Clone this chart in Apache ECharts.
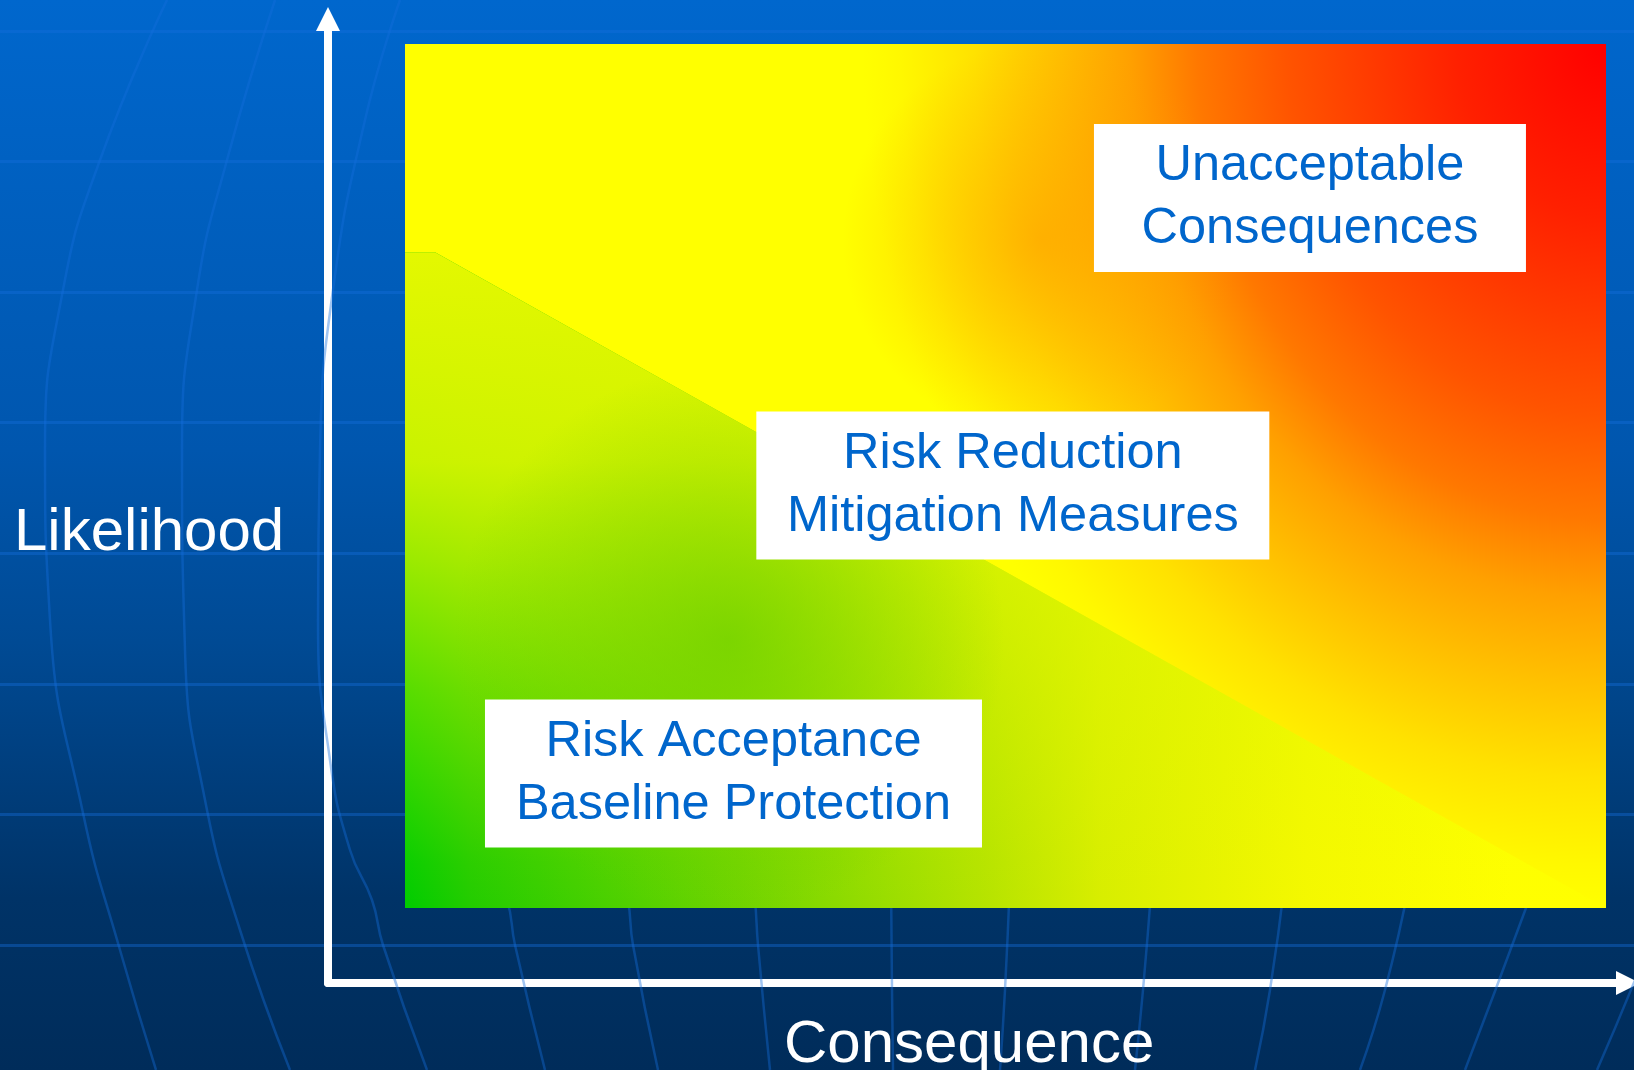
<!DOCTYPE html>
<html>
<head>
<meta charset="utf-8">
<title>Risk zones</title>
<script src="https://cdn.jsdelivr.net/npm/echarts@6/dist/echarts.min.js"></script>
<style>
html, body { margin: 0; padding: 0; }
#chart { width: 1634px; height: 1070px; }
</style>
</head>
<body>
<div id="chart"></div>
<script>
// field, in percent of consequence (x) and likelihood (y)
const fieldX = [0, 100];
const fieldY = [0, 100];
// upper edge of the acceptance zone
const acceptEdge = [[0, 75.9], [2.5, 75.9], [100, 0]];

const zoneNames = ['Unacceptable\nConsequences', 'Risk Reduction\nMitigation Measures', 'Risk Acceptance\nBaseline Protection'];
const zoneX = [75.35, 50.61, 27.35];
const zoneY = [82.18, 48.9, 15.57];

const axisNames = ['Consequence', 'Likelihood'];

// globe decoration behind the chart (page pixels)
const latitudeCount = 7;
const meridians = [
    [[167, 0], [100, 160], [63, 290], [45, 450], [50, 620], [83, 813], [120, 950], [156, 1070]],
    [[275, 0], [227, 160], [197, 290], [182, 450], [185, 650], [205, 800], [240, 930], [290, 1070]],
    [[400, 0], [365, 120], [333, 290], [320, 450], [318, 620], [330, 760], [350, 850], [372, 900], [383, 945], [427, 1070]],
    [[495, 880], [507, 900], [515, 945], [545, 1070]],
    [[622, 880], [628, 900], [633, 945], [658, 1070]],
    [[752, 880], [755, 900], [758, 945], [770, 1070]],
    [[891, 880], [892, 990], [893, 1070]],
    [[1010, 880], [1005, 990], [1000, 1070]],
    [[1152, 880], [1143, 990], [1135, 1070]],
    [[1285, 880], [1270, 990], [1255, 1070]],
    [[1410, 880], [1385, 990], [1360, 1070]],
    [[1535, 880], [1526, 908], [1465, 1070]],
    [[1650, 940], [1633, 985], [1597, 1070]]
];

const chart = echarts.init(document.getElementById('chart'));
const decoBlue = 'rgba(20,110,220,0.4)';
const labelWidths = [432, 513, 497];
const hotSquash = 0.86;

const hotField = new echarts.graphic.RadialGradient(1, 0, 1, [
    { offset: 0, color: '#ff0000' },
    { offset: 0.2, color: '#ff2000' },
    { offset: 0.43, color: '#ff5400' },
    { offset: 0.55, color: '#ff7800' },
    { offset: 0.64, color: '#ffa000' },
    { offset: 0.74, color: '#ffc000' },
    { offset: 0.85, color: '#ffe200' },
    { offset: 0.95, color: '#fff800' },
    { offset: 1, color: '#ffff00' }
]);

const orangeSpot = new echarts.graphic.RadialGradient(0.53, 0.227, 0.23, [
    { offset: 0, color: 'rgba(255,150,0,0.55)' },
    { offset: 1, color: 'rgba(255,150,0,0)' }
]);

const greenAcross = new echarts.graphic.LinearGradient(0, 0, 1, 0, [
    { offset: 0, color: '#00cc00' },
    { offset: 0.054, color: '#22cc00' },
    { offset: 0.28, color: '#70d400' },
    { offset: 0.49, color: '#b8e400' },
    { offset: 0.58, color: '#d8ee00' },
    { offset: 0.75, color: '#f4f800' },
    { offset: 0.92, color: '#ffff00' },
    { offset: 1, color: '#ffff00' }
]);

const yellowDown = new echarts.graphic.LinearGradient(0, 0, 0, 1, [
    { offset: 0, color: 'rgba(228,248,0,1)' },
    { offset: 0.32, color: 'rgba(228,248,0,0.88)' },
    { offset: 0.47, color: 'rgba(228,248,0,0.68)' },
    { offset: 0.67, color: 'rgba(228,248,0,0.38)' },
    { offset: 0.93, color: 'rgba(228,248,0,0.05)' },
    { offset: 1, color: 'rgba(228,248,0,0)' }
]);

const greenSpot = new echarts.graphic.RadialGradient(0.27, 0.59, 0.42, [
    { offset: 0, color: 'rgba(100,205,0,0.65)' },
    { offset: 1, color: 'rgba(100,205,0,0)' }
]);

const series = [];

meridians.forEach(function (m) {
    series.push({
        type: 'line', xAxisIndex: 3, yAxisIndex: 3, data: m, smooth: true,
        symbol: 'none', silent: true, z: 1,
        lineStyle: { color: decoBlue, width: 2.5 }
    });
});

series.push({
    type: 'custom', xAxisIndex: 0, yAxisIndex: 0, z: 3, silent: true,
    data: [[fieldX[0], fieldY[0], fieldX[1], fieldY[1]]],
    renderItem: function (params, api) {
        const p0 = api.coord([api.value(0), api.value(3)]);
        const p1 = api.coord([api.value(2), api.value(1)]);
        const w = p1[0] - p0[0];
        const h = p1[1] - p0[1];
        return {
            type: 'group',
            children: [
                {
                    type: 'group', x: p0[0], y: p0[1], scaleX: hotSquash,
                    children: [{
                        type: 'rect',
                        shape: { x: 0, y: 0, width: w / hotSquash, height: h },
                        style: { fill: hotField }
                    }]
                },
                {
                    type: 'rect',
                    shape: { x: p0[0], y: p0[1], width: w, height: h },
                    style: { fill: orangeSpot }
                }
            ]
        };
    }
});

[greenAcross, yellowDown, greenSpot].forEach(function (fill, i) {
    series.push({
        type: 'line', xAxisIndex: 0, yAxisIndex: 0, data: acceptEdge,
        symbol: 'none', silent: true, z: 4 + i,
        lineStyle: { width: 0 },
        areaStyle: { color: fill, opacity: 1, origin: 'start' }
    });
});

series.push({
    type: 'scatter', xAxisIndex: 0, yAxisIndex: 0, z: 8, silent: true,
    symbolSize: 1,
    itemStyle: { color: 'transparent', opacity: 1 },
    data: zoneNames.map(function (n, i) {
        return {
            value: [zoneX[i], zoneY[i], n],
            label: { width: labelWidths[i] }
        };
    }),
    label: {
        show: true,
        position: 'inside',
        formatter: function (p) { return p.value[2]; },
        color: '#0066cc',
        opacity: 1,
        fontFamily: 'Liberation Sans',
        fontSize: 50.5,
        lineHeight: 63,
        backgroundColor: '#ffffff',
        align: 'center',
        verticalAlign: 'middle',
        padding: [22, 0, 0, 0]
    }
});

const hiddenAxis = function (grid, min, max, inverse) {
    return { gridIndex: grid, type: 'value', min: min, max: max, inverse: !!inverse, show: false };
};

const arrowLine = {
    show: true,
    onZero: false,
    symbol: ['none', 'triangle'],
    symbolSize: [24, 24],
    lineStyle: { color: '#ffffff', width: 8 }
};

const axisTitleStyle = { color: '#ffffff', fontSize: 60, lineHeight: 60, fontWeight: 'normal', fontFamily: 'Liberation Sans' };

const option = {
    animation: false,
    backgroundColor: new echarts.graphic.LinearGradient(0, 0, 0, 1, [
        { offset: 0, color: '#0067cd' },
        { offset: 0.42, color: '#0056ae' },
        { offset: 0.6, color: '#004a94' },
        { offset: 0.84, color: '#003367' },
        { offset: 1, color: '#002c5a' }
    ]),
    title: [
        { text: axisNames[1], left: 14, top: 503, padding: 0, textStyle: axisTitleStyle },
        { text: axisNames[0], left: 784, top: 1015, padding: 0, textStyle: axisTitleStyle }
    ],
    grid: [
        { left: 405, right: 28, top: 44, bottom: 162 },
        { left: 328, right: 6, top: 19, bottom: 87 },
        { left: 0, right: 0, top: 31, bottom: 125 },
        { left: 0, right: 0, top: 0, bottom: 0 }
    ],
    xAxis: [
        hiddenAxis(0, fieldX[0], fieldX[1]),
        {
            gridIndex: 1, type: 'value', min: 0, max: 1,
            axisLine: arrowLine, axisTick: { show: false }, axisLabel: { show: false }, splitLine: { show: false }
        },
        hiddenAxis(2, 0, 1),
        hiddenAxis(3, 0, 1634)
    ],
    yAxis: [
        hiddenAxis(0, fieldY[0], fieldY[1]),
        {
            gridIndex: 1, type: 'value', min: 0, max: 1,
            axisLine: arrowLine, axisTick: { show: false }, axisLabel: { show: false }, splitLine: { show: false }
        },
        {
            gridIndex: 2, type: 'value', min: 0, max: latitudeCount, interval: 1, inverse: true,
            axisLine: { show: false }, axisTick: { show: false }, axisLabel: { show: false },
            splitLine: { show: true, lineStyle: { color: decoBlue, width: 3 } }
        },
        hiddenAxis(3, 0, 1070, true)
    ],
    series: series
};

chart.setOption(option);
</script>
</body>
</html>
